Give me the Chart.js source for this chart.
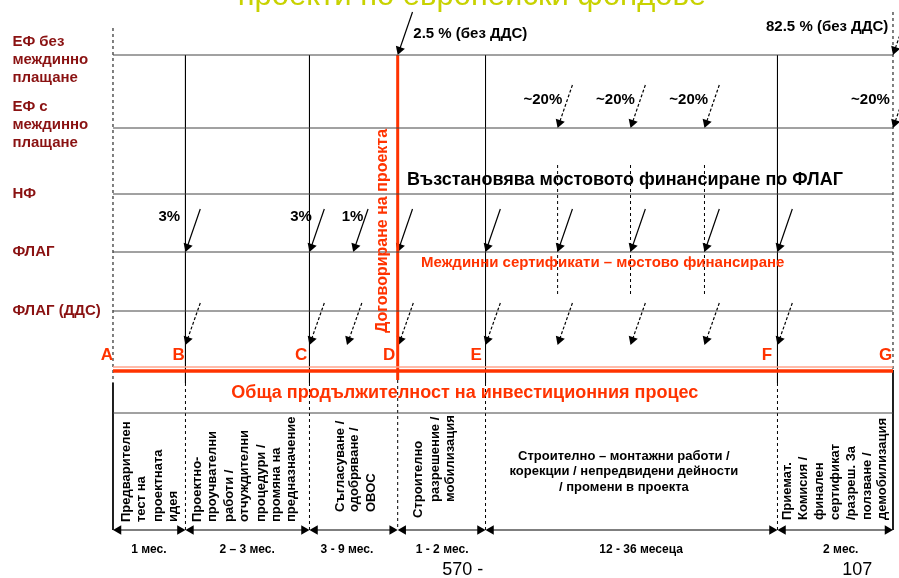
<!DOCTYPE html>
<html>
<head>
<meta charset="utf-8">
<script src="https://cdn.jsdelivr.net/npm/chart.js@4.4.0/dist/chart.umd.min.js"></script>
<style>
  body { margin: 0; background: #fff; }
  canvas { display: block; }
</style>
</head>
<body>
<canvas id="flagchart" width="899" height="578"></canvas>
<script>
// timeline position of each stage, A = 0 ... G = 100
var stageLetters = ['A', 'B', 'C', 'D', 'E', 'F', 'G']
var stageAt = [0, 9.29, 25.19, 36.5, 47.76, 85.19, 100]
var stageLetterAt = [0, 9.2, 24.9, 36.2, 47.3, 84.5, 99.9]
var interimAt = [57.0, 66.35, 75.83]

// funding rows (depth from the top)
var rowNames = [['ЕФ без', 'междинно', 'плащане'], ['ЕФ с', 'междинно', 'плащане'], ['НФ'], ['ФЛАГ'], ['ФЛАГ (ДДС)']]
var rowLevels = [55, 128, 194, 252, 311]
var rowLabelLevels = [60, 125, 194, 252, 311]

// payments
var efFinal = [{ at: 36.5, label: '2.5 % (без ДДС)', dashed: false }, { at: 100, label: '82.5 % (без ДДС)', dashed: true }]
var efInterimAt = [57.0, 66.35, 75.83, 100]
var efInterimLabel = '~20%'
var efInterimLabelAt = [57.6, 66.9, 76.3, 99.6]
var flagPaymentAt = [9.29, 25.19, 30.8, 36.5, 47.76, 57.0, 66.35, 75.83, 85.19]
var flagShareLabels = ['3%', '3%', '1%']
var flagShareAt = [8.6, 25.5, 32.1]
var vatPaymentAt = [9.29, 25.19, 30.0, 36.6, 47.76, 57.0, 66.35, 75.83, 85.19]

// phases of the investment process
var phaseDurations = ['1 мес.', '2 – 3 мес.', '3 - 9 мес.', '1 - 2 мес.', '12 - 36 месеца', '2 мес.']
var durationAt = [4.6, 17.2, 30.0, 42.2, 67.7, 93.3]
var phaseColumns = [
  { lines: ['Предварителен', 'тест на', 'проектната', 'идея'], at: [1.7, 3.7, 5.8, 7.8], from: [522, 522, 522, 522] },
  { lines: ['Проектно-', 'проучвателни', 'работи /', 'отчуждителни', 'процедури /', 'промяна на', 'предназначение'], at: [10.8, 12.8, 14.9, 16.9, 19.0, 21.0, 22.9], from: [522, 522, 522, 522, 522, 522, 522] },
  { lines: ['Съгласуване /', 'одобряване /', 'ОВОС'], at: [29.1, 31.0, 33.1], from: [512, 512, 512] },
  { lines: ['Строително', 'разрешение /', 'мобилизация'], at: [39.1, 41.3, 43.2], from: [518, 502, 502] },
  { lines: ['Приемат.', 'Комисия /', 'финален', 'сертификат', '/разреш. За', 'ползване /', 'демобилизация'], at: [86.5, 88.5, 90.6, 92.6, 94.7, 96.7, 98.6], from: [520, 520, 520, 520, 520, 520, 520] }
]
var buildPhaseLines = ['Строително – монтажни работи /', 'корекции / непредвидени дейности', '/ промени в проекта']

var RED = '#ff3300', DARKRED = '#8a1212', GRID = '#444'
var FONT = '"Liberation Sans", Arial, sans-serif'
var PX = 7.8 // pixels per timeline unit, used for arrow angles

var datasets = []

function seg(x1, y1, x2, y2, color, width, dash) {
  datasets.push({
    data: [{ x: x1, y: y1 }, { x: x2, y: y2 }],
    showLine: true, borderColor: color, borderWidth: width, borderDash: dash || [],
    pointRadius: 0, pointHoverRadius: 0
  })
}

function arrow(x1, y1, x2, y2, dashed, both) {
  var r = 5.5
  var dxp = (x2 - x1) * PX, dyp = (y2 - y1)
  var len = Math.sqrt(dxp * dxp + dyp * dyp)
  var ux = dxp / len, uy = dyp / len
  var rot = Math.atan2(ux, -uy) * 180 / Math.PI
  var end = { x: x2 - r * ux / PX, y: y2 - r * uy }
  var start = both ? { x: x1 + r * ux / PX, y: y1 + r * uy } : { x: x1, y: y1 }
  datasets.push({
    data: [start, end],
    showLine: true, borderColor: '#000', borderWidth: 1.2, borderDash: dashed ? [3, 2] : [],
    pointStyle: 'triangle', pointRadius: [both ? r : 0, r], rotation: [rot + 180, rot],
    pointBackgroundColor: '#000', pointBorderWidth: 0, pointHoverRadius: 0
  })
}

var A = stageAt[0], G = stageAt[6]

// row lines
rowLevels.forEach(function (d) { seg(A, d, G, d, GRID, 1) })
seg(A, 413, G, 413, GRID, 1)
// total duration line
seg(A, 367, G, 367, '#ffa58c', 1.5)
seg(A, 371, G, 371, RED, 3.5)

// stage verticals
seg(A, 28, A, 383, '#000', 1, [3, 3])
seg(A, 383, A, 530, '#000', 1)
;[1, 2, 4, 5].forEach(function (i) {
  seg(stageAt[i], 55, stageAt[i], 383, '#000', 1)
  seg(stageAt[i], 383, stageAt[i], 530, '#000', 1, [3, 3])
})
seg(stageAt[3], 55, stageAt[3], 380, RED, 3)
seg(stageAt[3], 380, stageAt[3], 530, '#000', 1, [3, 3])
seg(G, 12, G, 370, '#000', 1, [3, 3])
seg(G, 370, G, 530, '#000', 1)
interimAt.forEach(function (x) { seg(x, 165, x, 297, '#000', 1, [3, 3]) })

// payment arrows
efFinal.forEach(function (p) { arrow(p.at + 1.9, 12, p.at, 55, p.dashed) })
efInterimAt.forEach(function (x) { arrow(x + 1.9, 85, x, 128, true) })
flagPaymentAt.forEach(function (x) { arrow(x + 1.9, 209, x, 252, false) })
vatPaymentAt.forEach(function (x) { arrow(x + 1.9, 303, x, 345, true) })

// phase duration arrows
for (var i = 0; i < stageAt.length - 1; i++) {
  arrow(stageAt[i], 530, stageAt[i + 1], 530, false, true)
}

// text notes
var notes = []
function note(text, x, y, font, color, align, rot) {
  notes.push({ text: text, x: x, y: y, font: font, color: color, align: align || 'left', rot: rot })
}

notes.push({ text: 'проекти по европейски фондове', x: 46.0, y: 5, font: '31px ' + FONT, color: '#c8d200', align: 'center', base: 'alphabetic' })

rowNames.forEach(function (lines, i) {
  lines.forEach(function (t, j) {
    note(t, -12.9, rowLabelLevels[i] + (j - (lines.length - 1) / 2) * 18, 'bold 15px ' + FONT, DARKRED)
  })
})

note(efFinal[0].label, 38.5, 34, 'bold 15px ' + FONT, '#000')
note(efFinal[1].label, 99.4, 27, 'bold 15px ' + FONT, '#000', 'right')
efInterimLabelAt.forEach(function (x) { note(efInterimLabel, x, 100, 'bold 15px ' + FONT, '#000', 'right') })
flagShareLabels.forEach(function (t, i) { note(t, flagShareAt[i], 217, 'bold 15px ' + FONT, '#000', 'right') })

note('Възстановява мостовото финансиране по ФЛАГ', 37.7, 180, 'bold 18px ' + FONT, '#000')
note('Междинни сертификати – мостово финансиране', 39.5, 263, 'bold 15px ' + FONT, RED)
note('Договориране на проекта', 34.6, 231, 'bold 16px ' + FONT, RED, 'center', true)

stageLetters.forEach(function (t, i) { note(t, stageLetterAt[i], 355, 'bold 17px ' + FONT, RED, 'right') })
note('Обща продължителност на инвестиционния процес', 45.1, 393, 'bold 18px ' + FONT, RED, 'center')

phaseColumns.forEach(function (col) {
  col.lines.forEach(function (t, j) { note(t, col.at[j], col.from[j], 'bold 13px ' + FONT, '#000', 'left', true) })
})
buildPhaseLines.forEach(function (t, j) { note(t, 65.5, 456 + j * 15.5, 'bold 13px ' + FONT, '#000', 'center') })

phaseDurations.forEach(function (t, i) { note(t, durationAt[i], 550, 'bold 12px ' + FONT, '#000', 'center') })
note('570 -', 42.2, 570, '18px ' + FONT, '#000')
note('107', 93.5, 570, '18px ' + FONT, '#000')

var notesPlugin = {
  id: 'notes',
  afterDatasetsDraw: function (chart) {
    var ctx = chart.ctx, xs = chart.scales.x, ys = chart.scales.y
    notes.forEach(function (n) {
      ctx.save()
      ctx.font = n.font
      ctx.fillStyle = n.color
      ctx.textAlign = n.align
      ctx.textBaseline = n.base || 'middle'
      ctx.translate(xs.getPixelForValue(n.x), ys.getPixelForValue(n.y))
      if (n.rot) ctx.rotate(-Math.PI / 2)
      ctx.fillText(n.text, 0, 0)
      ctx.restore()
    })
  }
}

var whiteBg = {
  id: 'whiteBg',
  beforeDraw: function (chart) {
    var ctx = chart.ctx
    ctx.save()
    ctx.fillStyle = '#fff'
    ctx.fillRect(0, 0, chart.width, chart.height)
    ctx.restore()
  }
}

new Chart(document.getElementById('flagchart'), {
  type: 'scatter',
  data: { datasets: datasets },
  options: {
    responsive: false,
    animation: false,
    devicePixelRatio: 1,
    layout: { padding: 0, autoPadding: false },
    scales: {
      x: { type: 'linear', display: false, min: -14.487, max: 100.77 },
      y: { type: 'linear', display: false, min: 0, max: 578, reverse: true }
    },
    plugins: { legend: { display: false }, tooltip: { enabled: false } },
    elements: { line: { tension: 0 } }
  },
  plugins: [whiteBg, notesPlugin]
})
</script>
</body>
</html>
